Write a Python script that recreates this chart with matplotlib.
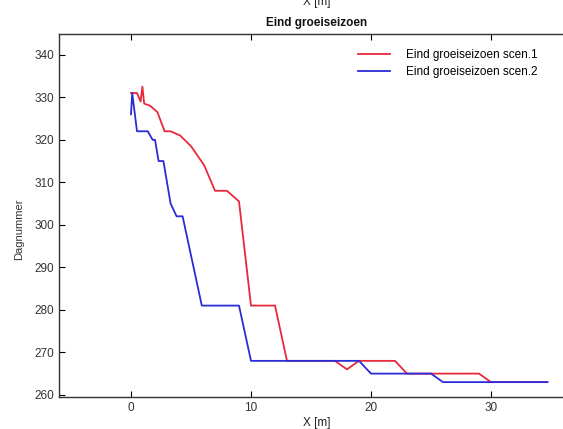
import matplotlib
matplotlib.use("Agg")
import matplotlib.pyplot as plt

plt.rcParams['font.family'] = ['Liberation Sans', 'DejaVu Sans']

# scen.1 (red) and scen.2 (blue)
x_scen1 = [0, 0.5, 0.8, 0.95, 1.1, 1.6, 2.2, 2.8, 3.3, 4.1, 5.0, 6.1, 7.0, 8.0,
           9.0, 10.0, 12.0, 13.0, 17.0, 18.0, 19.0, 22.0, 23.0, 29.0, 30.0, 34.7]
y_scen1 = [331, 331, 329, 332.5, 328.5, 328, 326.5, 322, 322, 321, 318.5, 314, 308, 308,
           305.5, 281, 281, 268, 268, 266, 268, 268, 265, 265, 263, 263]

x_scen2 = [0, 0.1, 0.5, 1.4, 1.8, 2.0, 2.3, 2.7, 3.3, 3.8, 4.3, 5.9, 9.0,
           10.0, 19.0, 20.0, 25.0, 26.0, 34.7]
y_scen2 = [326, 331, 322, 322, 320, 320, 315, 315, 305, 302, 302, 281, 281,
           268, 268, 265, 265, 263, 263]

labels = ["Eind groeiseizoen scen.1", "Eind groeiseizoen scen.2"]
xticks = [0, 10, 20, 30]
yticks = [260, 270, 280, 290, 300, 310, 320, 330, 340]

W, H = 563, 429
fig = plt.figure(figsize=(W / 100, H / 100), dpi=100)
ax = fig.add_axes([59 / W, 32 / H, 516 / W, 363.5 / H])

ax.plot(x_scen1, y_scen1, color="#e8283c", lw=1.3, label=labels[0])
ax.plot(x_scen2, y_scen2, color="#2b2bd8", lw=1.3, label=labels[1])

ax.set_xlim(-6, 37)
ax.set_ylim(259.5, 345)
ax.set_xticks(xticks)
ax.set_yticks(yticks)
ax.tick_params(direction="in", length=4, width=0.8, labelsize=8.5,
               labelcolor="#333333", top=True, right=False)
for s in ax.spines.values():
    s.set_linewidth(1.0)
    s.set_color("#333333")

ax.set_xlabel("X [m]", fontsize=8.5, color="#222222", labelpad=2)
fig.text(19 / W, 1 - 229 / H, "Dagnummer", rotation=90, fontsize=8,
         color="#333333", ha="center", va="center")
fig.text(317 / W, 1 - 23 / H, "Eind groeiseizoen", fontsize=8.5,
         fontweight="bold", ha="center", va="center", color="#111111")
# label of the panel above, cut by the top edge
fig.text(317 / W, 1 - 5 / H, "X [m]", fontsize=8.5, ha="center",
         va="baseline", color="#222222")

ax.legend(loc="upper left", bbox_to_anchor=(358 / W, 1 - 49 / H),
          bbox_transform=fig.transFigure, frameon=False, fontsize=8.5,
          handlelength=2.7, handletextpad=1.4, labelspacing=0.45,
          borderpad=0, borderaxespad=0)

fig.savefig("out.png", dpi=100)
